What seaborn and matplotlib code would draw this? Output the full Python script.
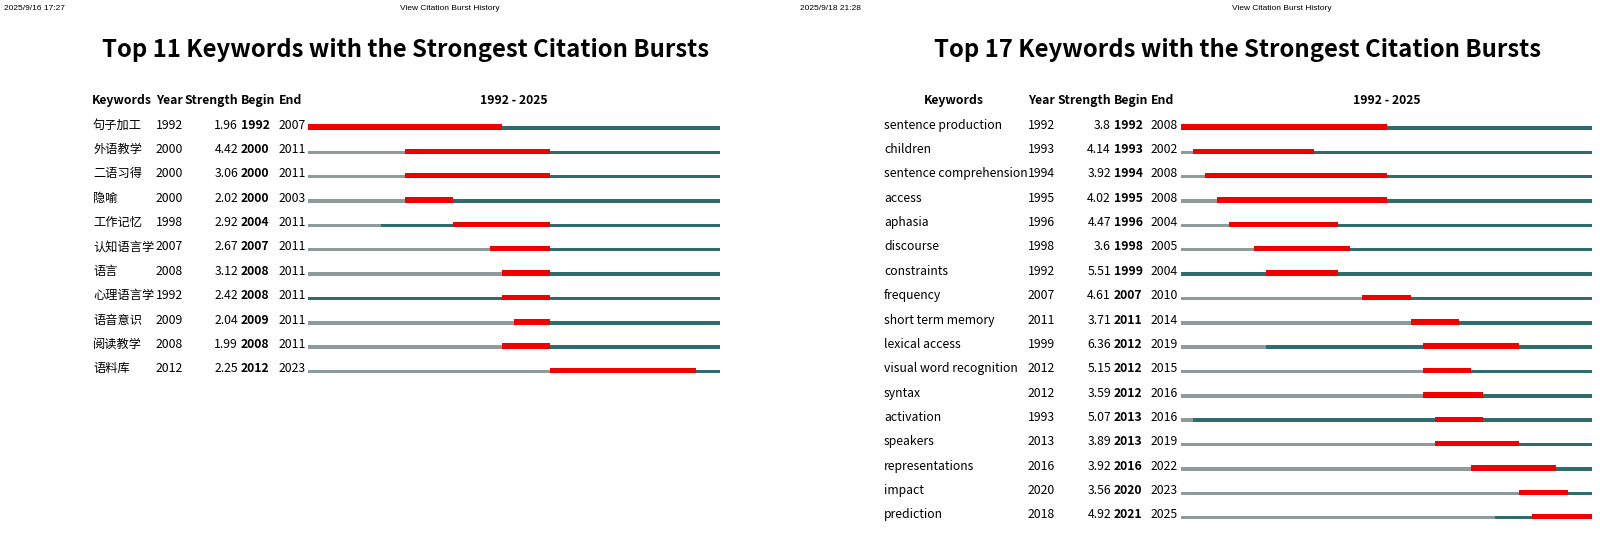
import numpy as np
import pandas as pd
import matplotlib
matplotlib.use("Agg")
import matplotlib.pyplot as plt
import matplotlib.transforms as mtransforms
import seaborn as sns

# dati: pannello sinistro (parole chiave cinesi)
kw_cn = ['句子加工', '外语教学', '二语习得', '隐喻', '工作记忆', '认知语言学',
         '语言', '心理语言学', '语音意识', '阅读教学', '语料库']
year_cn = [1992, 2000, 2000, 2000, 1998, 2007, 2008, 1992, 2009, 2008, 2012]
strength_cn = [1.96, 4.42, 3.06, 2.02, 2.92, 2.67, 3.12, 2.42, 2.04, 1.99, 2.25]
begin_cn = [1992, 2000, 2000, 2000, 2004, 2007, 2008, 2008, 2009, 2008, 2012]
end_cn = [2007, 2011, 2011, 2003, 2011, 2011, 2011, 2011, 2011, 2011, 2023]

# dati: pannello destro (parole chiave inglesi)
kw_en = ['sentence production', 'children', 'sentence comprehension', 'access',
         'aphasia', 'discourse', 'constraints', 'frequency', 'short term memory',
         'lexical access', 'visual word recognition', 'syntax', 'activation',
         'speakers', 'representations', 'impact', 'prediction']
year_en = [1992, 1993, 1994, 1995, 1996, 1998, 1992, 2007, 2011, 1999, 2012,
           2012, 1993, 2013, 2016, 2020, 2018]
strength_en = [3.8, 4.14, 3.92, 4.02, 4.47, 3.6, 5.51, 4.61, 3.71, 6.36, 5.15,
               3.59, 5.07, 3.89, 3.92, 3.56, 4.92]
begin_en = [1992, 1993, 1994, 1995, 1996, 1998, 1999, 2007, 2011, 2012, 2012,
            2012, 2013, 2013, 2016, 2020, 2021]
end_en = [2008, 2002, 2008, 2008, 2004, 2005, 2004, 2010, 2014, 2019, 2015,
          2016, 2016, 2019, 2022, 2023, 2025]

first_year, last_year = 1992, 2025
header_dates = ['2025/9/16 17:27', '2025/9/18 21:28']

sns.set_style("white")
plt.rcParams['font.family'] = ['Noto Sans CJK SC', 'DejaVu Sans']
plt.rcParams['text.color'] = 'black'

W, H = 1600, 540
fig = plt.figure(figsize=(16, 5.4), dpi=100)

GRAY = '#8e9b9b'
TEAL = '#2f6d6d'
RED = '#f20000'
FS = 8.8
ROW0, STEP = 128, 24.35


def fx(px):
    return px / W


def fy(py):
    return 1 - py / H


def draw_panel(df, cols, bar_x0, bar_x1, title_x, date_text, date_x, view_x):
    n = len(df)
    top = ROW0 - STEP / 2
    bottom = ROW0 + STEP * (n - 0.5)
    ax = fig.add_axes([fx(bar_x0), fy(bottom), fx(bar_x1 - bar_x0), (bottom - top) / H])
    ax.set_xlim(first_year, last_year + 1)
    ax.set_ylim(n - 0.5, -0.5)
    ax.axis('off')

    y = np.arange(n)
    thin, thick = 0.14, 0.22
    base = y + thin / 2
    # grigio prima della comparsa, verde-petrolio dopo, rosso per il burst
    ax.barh(base - thin, df['Year'] - first_year, left=first_year, height=thin,
            align='edge', color=GRAY, linewidth=0)
    ax.barh(base - thin, last_year + 1 - df['Year'], left=df['Year'], height=thin,
            align='edge', color=TEAL, linewidth=0)
    ax.barh(base - thick, df['End'] + 1 - df['Begin'], left=df['Begin'], height=thick,
            align='edge', color=RED, linewidth=0)

    tr = mtransforms.blended_transform_factory(fig.transFigure, ax.transData)
    for i, row in df.iterrows():
        ty = i + 0.03
        ax.text(fx(cols['kw']), ty, row['Keywords'], transform=tr, fontsize=FS,
                va='baseline', ha='left', clip_on=False)
        ax.text(fx(cols['year']), ty, str(row['Year']), transform=tr, fontsize=FS,
                va='baseline', ha='left', clip_on=False)
        ax.text(fx(cols['strength']), ty, f"{row['Strength']:g}", transform=tr,
                fontsize=FS, va='baseline', ha='right', clip_on=False)
        ax.text(fx(cols['begin']), ty, str(row['Begin']), transform=tr, fontsize=FS,
                fontweight='bold', va='baseline', ha='left', clip_on=False)
        ax.text(fx(cols['end']), ty, str(row['End']), transform=tr, fontsize=FS,
                va='baseline', ha='left', clip_on=False)

    hy = fy(104)
    head = dict(fontsize=FS, fontweight='bold', va='baseline')
    fig.text(fx(cols['kw_head']), hy, 'Keywords', ha='center', **head)
    fig.text(fx(cols['year']), hy, 'Year', ha='left', **head)
    fig.text(fx(cols['strength']), hy, 'Strength', ha='right', **head)
    fig.text(fx(cols['begin']), hy, 'Begin', ha='left', **head)
    fig.text(fx(cols['end']), hy, 'End', ha='left', **head)
    fig.text(fx((bar_x0 + bar_x1) / 2), hy, f'{first_year} - {last_year}',
             ha='center', **head)

    fig.text(fx(title_x), fy(50), f'Top {n} Keywords with the Strongest Citation Bursts',
             fontsize=17.2, fontweight='bold', ha='center', va='center')

    small = ['Liberation Sans Narrow', 'Liberation Sans', 'DejaVu Sans']
    fig.text(fx(date_x), fy(9), date_text, fontsize=6, family=small,
             ha='left', va='center')
    fig.text(fx(view_x), fy(9), 'View Citation Burst History', fontsize=6,
             family=small, ha='center', va='center')


df_cn = pd.DataFrame({'Keywords': kw_cn, 'Year': year_cn, 'Strength': strength_cn,
                      'Begin': begin_cn, 'End': end_cn})
df_en = pd.DataFrame({'Keywords': kw_en, 'Year': year_en, 'Strength': strength_en,
                      'Begin': begin_en, 'End': end_en})

draw_panel(df_cn,
           dict(kw=93, kw_head=122, year=156, strength=238, begin=241, end=279),
           308, 720, 405, header_dates[0], 4, 450)
draw_panel(df_en,
           dict(kw=884, kw_head=954, year=1028, strength=1111, begin=1114, end=1151),
           1181, 1592, 1237, header_dates[1], 800, 1282)

fig.savefig('out.png', dpi=100, facecolor='white')
